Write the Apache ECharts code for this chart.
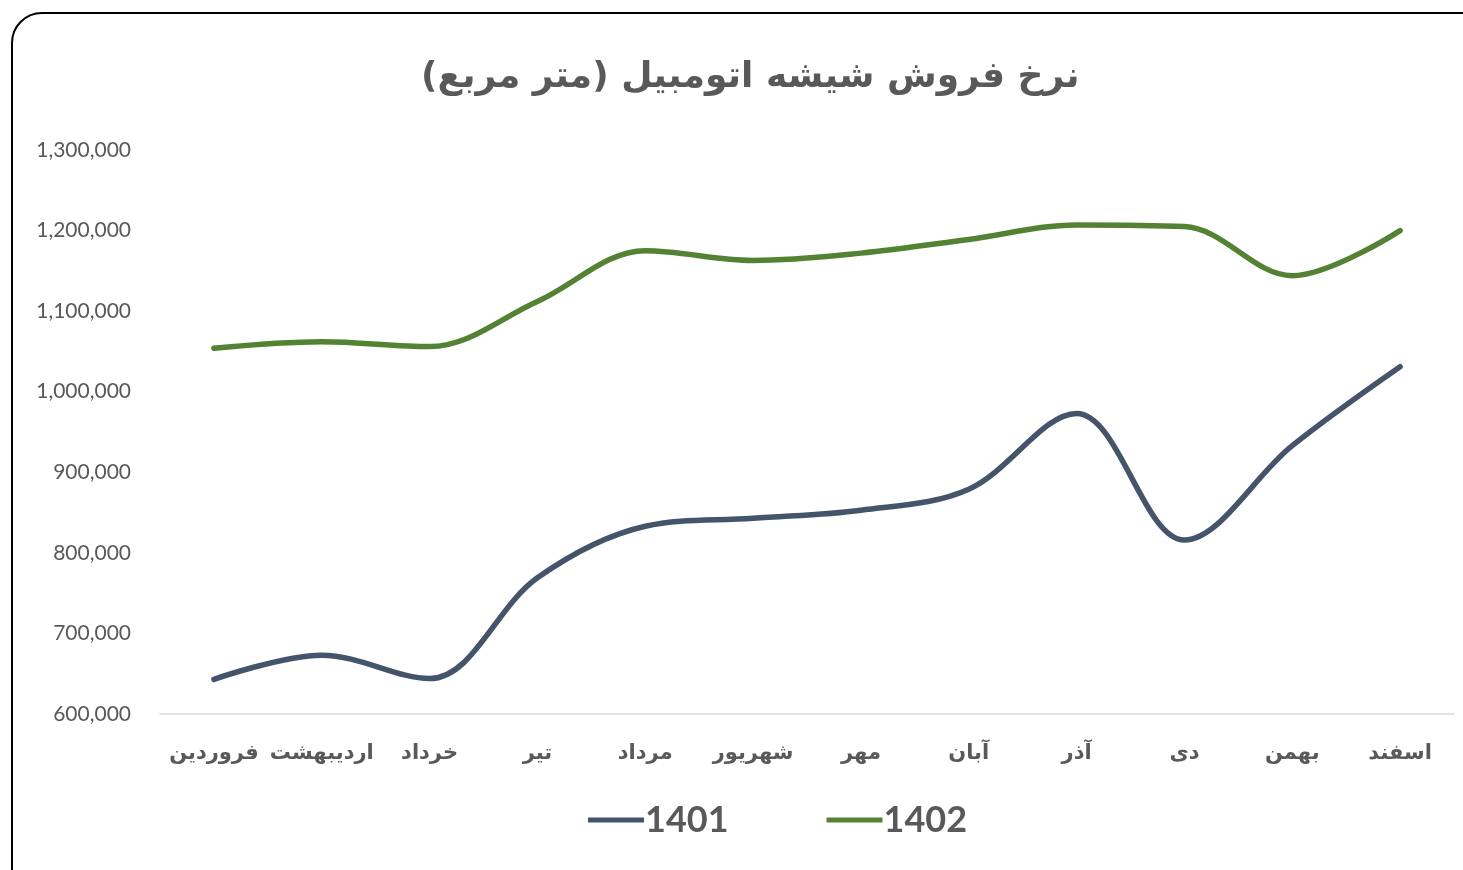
<!DOCTYPE html>
<html>
<head>
<meta charset="utf-8">
<script src="https://cdn.jsdelivr.net/npm/echarts@6/dist/echarts.min.js"></script>
<style>html,body{margin:0;padding:0;background:#fff}#c{width:1463px;height:870px}</style>
</head>
<body>
<div id="c"></div>
<script>
const titleText = 'نرخ فروش شیشه اتومبیل (متر مربع)';
const categories = ['فروردین','اردیبهشت','خرداد','تیر','مرداد','شهریور','مهر','آبان','آذر','دی','بهمن','اسفند'];
const seriesNames = ['1401','1402'];
const values1401 = [643000, 673000, 644000, 769000, 833000, 843000, 853000, 879000, 973000, 816000, 933000, 1031000];
const values1402 = [1054000, 1062000, 1056000, 1112000, 1175000, 1163000, 1172000, 1189000, 1207000, 1205000, 1144000, 1200000];
const yMin = 600000, yMax = 1300000, yStep = 100000;

const chart = echarts.init(document.getElementById('c'));
chart.setOption({
  backgroundColor: '#ffffff',
  animation: false,
  graphic: [{
    type: 'rect',
    shape: {x: 12, y: 13, width: 1500, height: 920, r: 30},
    style: {fill: 'none', stroke: '#000000', lineWidth: 2},
    silent: true, z: -1
  }],
  title: {
    text: titleText,
    left: 416, top: 55,
    textStyle: {fontFamily: 'DejaVu Sans', fontWeight: 'bold', fontSize: 36, color: '#595959'}
  },
  legend: {
    data: seriesNames,
    left: 583, top: 797,
    itemWidth: 56, itemHeight: 5,
    itemGap: 98,
    icon: 'rect',
    textStyle: {fontFamily: 'Lato', fontWeight: 'bold', fontSize: 36, color: '#595959', padding: [0,0,0,-4]}
  },
  grid: {left: 160, right: 9, top: 150, bottom: 156, containLabel: false},
  xAxis: {
    type: 'category',
    data: categories,
    boundaryGap: true,
    axisLine: {lineStyle: {color: '#d9d9d9', width: 1.5}},
    axisTick: {show: false},
    axisLabel: {fontFamily: 'DejaVu Sans', fontWeight: 'bold', fontSize: 21, color: '#595959', margin: 29, interval: 0}
  },
  yAxis: {
    type: 'value',
    min: yMin, max: yMax, interval: yStep,
    axisLine: {show: false},
    axisTick: {show: false},
    splitLine: {show: false},
    axisLabel: {
      fontFamily: 'Lato', fontSize: 21, color: '#595959', margin: 29,
      formatter: v => v.toLocaleString('en-US')
    }
  },
  series: [
    {name: seriesNames[0], type: 'line', data: values1401, smooth: 0.35, showSymbol: false,
     lineStyle: {width: 5.5, color: '#44546A', cap: 'round'}, itemStyle: {color: '#44546A'}},
    {name: seriesNames[1], type: 'line', data: values1402, smooth: 0.35, showSymbol: false,
     lineStyle: {width: 5.5, color: '#548235', cap: 'round'}, itemStyle: {color: '#548235'}}
  ]
});
</script>
</body>
</html>
